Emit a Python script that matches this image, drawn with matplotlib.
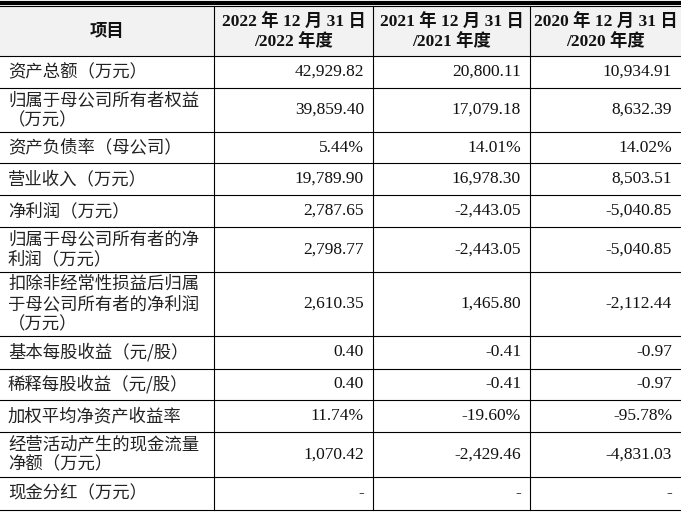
import matplotlib
matplotlib.use("Agg")
import matplotlib.pyplot as plt
from matplotlib.patches import Rectangle

headers = ["项目", "2022 年 12 月 31 日\n/2022 年度", "2021 年 12 月 31 日\n/2021 年度", "2020 年 12 月 31 日\n/2020 年度"]
items = ["资产总额（万元）", "归属于母公司所有者权益\n（万元）", "资产负债率（母公司）", "营业收入（万元）",
         "净利润（万元）", "归属于母公司所有者的净\n利润（万元）", "扣除非经常性损益后归属\n于母公司所有者的净利润\n（万元）",
         "基本每股收益（元/股）", "稀释每股收益（元/股）", "加权平均净资产收益率",
         "经营活动产生的现金流量\n净额（万元）", "现金分红（万元）"]
v2022 = ["42,929.82", "39,859.40", "5.44%", "19,789.90", "2,787.65", "2,798.77", "2,610.35", "0.40", "0.40", "11.74%", "1,070.42", "-"]
v2021 = ["20,800.11", "17,079.18", "14.01%", "16,978.30", "-2,443.05", "-2,443.05", "1,465.80", "-0.41", "-0.41", "-19.60%", "-2,429.46", "-"]
v2020 = ["10,934.91", "8,632.39", "14.02%", "8,503.51", "-5,040.85", "-5,040.85", "-2,112.44", "-0.97", "-0.97", "-95.78%", "-4,831.03", "-"]

col_x = [0, 214, 373, 530, 681]
row_y = [6, 56, 88, 132, 163, 195, 227, 272, 336, 369, 400, 432, 477, 510]

fam = ["Liberation Serif", "Noto Sans CJK SC"]
fig = plt.figure(figsize=(6.81, 5.12), dpi=100)
ax = fig.add_axes([0, 0, 1, 1])
ax.set_xlim(0, 681); ax.set_ylim(512, 0); ax.axis("off")

ax.add_patch(Rectangle((0, row_y[0]), 681, row_y[1]-row_y[0], facecolor="#f2f2f2", edgecolor="none"))
ax.plot([0, 681], [3, 3], color="black", lw=3)
for y in row_y:
    ax.plot([0, 681], [y, y], color="black", lw=0.8)
for x in col_x[1:-1]:
    ax.plot([x, x], [row_y[0], row_y[-1]], color="black", lw=0.8)

for j, h in enumerate(headers):
    cx = (col_x[j] + col_x[j+1]) / 2
    ax.text(cx, (row_y[0]+row_y[1])/2 + 1, h, ha="center", va="center", fontsize=12.5,
            fontweight="bold", family=fam, linespacing=1.2, color="#111111")

for i, it in enumerate(items):
    y0, y1 = row_y[i+1], row_y[i+2]
    cy = (y0 + y1) / 2
    ax.text(8, cy, it, ha="left", va="center", fontsize=12.5, family=["Noto Sans CJK SC"],
            linespacing=1.15, color="#222222")
    for j, vals in enumerate([v2022, v2021, v2020]):
        ax.text(col_x[j+2] - 9, cy, vals[i], ha="right", va="center", fontsize=12.5,
                family=fam, color="#111111")

fig.savefig("out.png", dpi=100)
